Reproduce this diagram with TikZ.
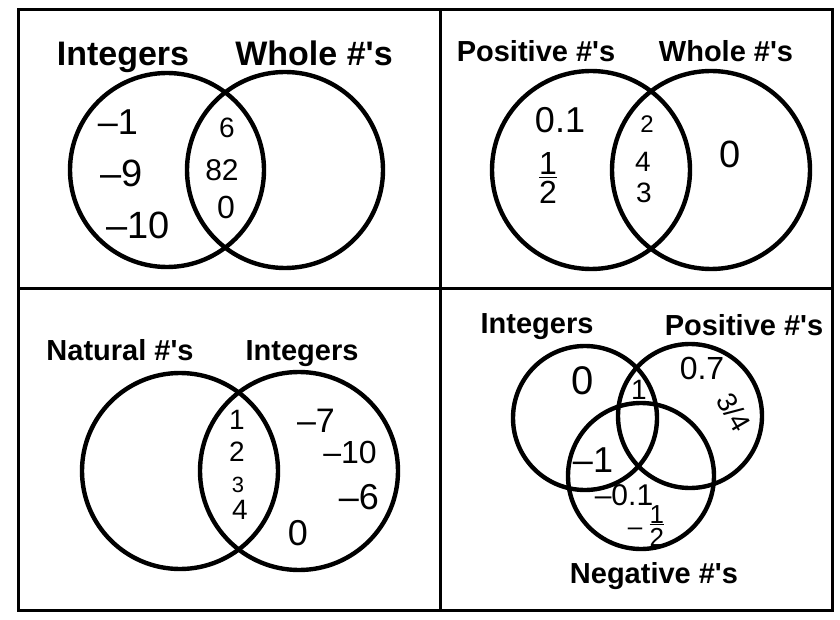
\documentclass[tikz,border=0pt]{standalone}
\usepackage{fontspec}
\setmainfont{Liberation Sans}
\usetikzlibrary{positioning}

% stacked fraction as written by hand
\newcommand{\vfrac}[2]{\begin{tabular}{@{}c@{}}#1\\[-4pt]\hline\noalign{\vskip1pt}#2\end{tabular}}
\newcommand{\nums}{\#\textquotesingle s}

\begin{document}
\begin{tikzpicture}[x=0.5pt, y=-0.5pt,
  ring/.style={draw, circle, line width=2.2pt, inner sep=0pt},
  title/.style={font=\fontsize{14.5}{16}\selectfont\bfseries, inner sep=0pt, anchor=base},
  bigtitle/.style={font=\fontsize{17}{19}\selectfont\bfseries, inner sep=0pt, anchor=base},
  hand/.style={font=\fontsize{18}{19}\selectfont, inner sep=0pt},
  small hand/.style={font=\fontsize{14}{15}\selectfont, inner sep=0pt}]
  \useasboundingbox (0,0) rectangle (840,620);
  % frame
  \draw[line width=1.5pt] (18,10) rectangle (832,610);
  \draw[line width=1.5pt] (440,10) -- (440,610);
  \draw[line width=1.5pt] (18,288) -- (832,288);

  % integers / whole
  \node[ring, minimum size=97pt] (intA) at (167,170) {};
  \node[ring, minimum size=98pt] (wholeA) at (285,170) {};
  \node[bigtitle] (intAlbl) at (123,66) {Integers};
  \node[bigtitle] (wholeAlbl) at (314,66) {Whole \nums};
  \node[hand] (a1) at (118,122) {--1};
  \node[hand, font=\fontsize{19}{20}\selectfont] (a2) at (122,173) {--9};
  \node[hand, font=\fontsize{19}{20}\selectfont] (a3) at (138,225) {--10};
  \node[small hand] (a4) at (227,128) {6};
  \node[small hand, font=\fontsize{15}{16}\selectfont] (a5) at (222,170) {82};
  \node[hand, font=\fontsize{16}{17}\selectfont] (a6) at (226,207) {0};

  % positive / whole
  \node[ring, minimum size=99pt] (posB) at (591,170) {};
  \node[ring, minimum size=99pt] (wholeB) at (711,170) {};
  \node[title] (posBlbl) at (536,62) {Positive \nums};
  \node[title] (wholeBlbl) at (726,62) {Whole \nums};
  \node[hand] (b1) at (560,120) {0.1};
  \node[small hand, font=\fontsize{16}{17}\selectfont] (b2) at (548,182) {\vfrac{1}{2}};
  \node[small hand, font=\fontsize{12}{13}\selectfont] (b3) at (647,124) {2};
  \node[small hand] (b4) at (643,162) {4};
  \node[small hand] (b5) at (644,193) {3};
  \node[hand, font=\fontsize{19}{20}\selectfont] (b6) at (730,154) {0};

  % natural / integers
  \node[ring, minimum size=98pt] (natC) at (180,471) {};
  \node[ring, minimum size=99pt] (intC) at (299,471) {};
  \node[title] (natClbl) at (120,360) {Natural \nums};
  \node[title] (intClbl) at (302,360) {Integers};
  \node[small hand] (c1) at (237,420) {1};
  \node[small hand] (c2) at (237,452) {2};
  \node[small hand, font=\fontsize{11}{12}\selectfont] (c3) at (238,485) {3};
  \node[small hand] (c4) at (240,510) {4};
  \node[hand, font=\fontsize{17}{18}\selectfont] (c5) at (316,421) {--7};
  \node[hand, font=\fontsize{16}{17}\selectfont] (c6) at (350,452) {--10};
  \node[hand] (c7) at (359,497) {--6};
  \node[hand] (c8) at (298,533) {0};

  % integers / positive / negative
  \node[ring, minimum size=72pt] (intD) at (585,418) {};
  \node[ring, minimum size=72pt] (posD) at (690,416) {};
  \node[ring, minimum size=73pt] (negD) at (641,476) {};
  \node[title] (intDlbl) at (537,333) {Integers};
  \node[title] (posDlbl) at (744,335) {Positive \nums};
  \node[title] (negDlbl) at (654,583) {Negative \nums};
  \node[hand, font=\fontsize{20}{21}\selectfont] (d1) at (583,381) {0};
  \node[small hand] (d2) at (639,390) {1};
  \node[hand, font=\fontsize{16}{17}\selectfont] (d3) at (702,368) {0.7};
  \node[small hand, rotate=-60] (d4) at (734,412) {3/4};
  \node[hand] (d5) at (593,460) {--1};
  \node[hand, font=\fontsize{15}{16}\selectfont] (d6) at (624,495) {--0.1};
  \node[hand, font=\fontsize{13}{14}\selectfont] (d7) at (646,529) {-- \vfrac{1}{2}};
\end{tikzpicture}
\end{document}
